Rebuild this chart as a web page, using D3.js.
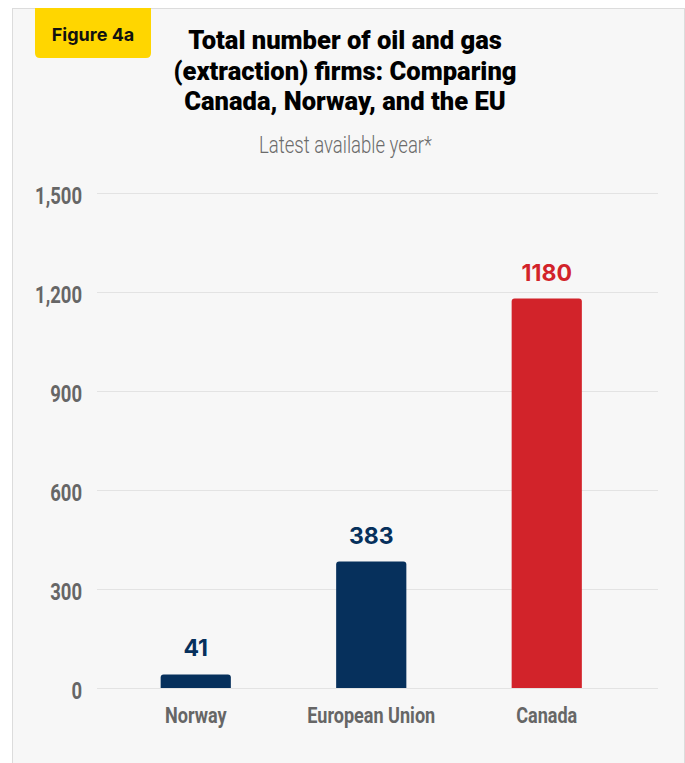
<!DOCTYPE html>
<html><head><meta charset="utf-8">
<script src="https://cdn.jsdelivr.net/npm/d3@7"></script>
<style>
html,body{margin:0;padding:0;background:#fff;}
svg{display:block;}
</style></head>
<body>
<svg id="chart" width="685" height="763"></svg>
<script>
// ---- data ----
const categories = ["Norway", "European Union", "Canada"];
const values = [41, 383, 1180];
const barColors = ["#06305c", "#06305c", "#d2232a"];
const yTicks = [0, 300, 600, 900, 1200, 1500];
const titleLines = ["Total number of oil and gas", "(extraction) firms: Comparing", "Canada, Norway, and the EU"];
const subtitle = "Latest available year*";
const badgeText = "Figure 4a";

const svg = d3.select("#chart");

// panel
svg.append("rect").attr("x", 12.5).attr("y", 8.5).attr("width", 672).attr("height", 800)
  .attr("fill", "#f7f7f7").attr("stroke", "#dcdcdc").attr("stroke-width", 1);

// badge
const bx0 = 35, bx1 = 151, by0 = 8, by1 = 58, r = 5;
svg.append("path")
  .attr("d", `M${bx0},${by0} H${bx1} V${by1 - r} Q${bx1},${by1} ${bx1 - r},${by1} H${bx0 + r} Q${bx0},${by1} ${bx0},${by1 - r} Z`)
  .attr("fill", "#ffd600");
svg.append("text").attr("x", (bx0 + bx1) / 2).attr("y", 41)
  .attr("text-anchor", "middle")
  .style("font-family", "Inter, 'Noto Sans', sans-serif").style("font-weight", 700)
  .style("font-size", "18px").attr("fill", "#111").text(badgeText);

// helper: horizontally condensed text
function condensed(sel, x, y, txt, opts, sx) {
  const g = sel.append("g").attr("transform", `translate(${x},${y})`);
  const t = g.append("text").attr("text-anchor", opts.anchor || "middle")
    .style("font-family", "Roboto, 'Liberation Sans', sans-serif")
    .style("font-weight", opts.weight).style("font-size", opts.size + "px")
    .attr("fill", opts.fill).text(txt);
  t.attr("transform", `scale(${sx},1)`);
  return t;
}
function measure(txt, opts) {
  const t = svg.append("text").style("font-family", "Roboto, 'Liberation Sans', sans-serif")
    .style("font-weight", opts.weight).style("font-size", opts.size + "px").text(txt);
  const w = t.node().getComputedTextLength();
  t.remove();
  return w;
}

// title
const titleOpts = {weight: 900, size: 26, fill: "#000"};
const titleSx = 314 / measure(titleLines[0], titleOpts);
titleLines.forEach((l, i) => condensed(svg, 345, 49 + i * 30.5, l, titleOpts, titleSx));

// subtitle
const subOpts = {weight: 300, size: 24, fill: "#6b6b6b"};
const subSx = 173 / measure(subtitle, subOpts);
condensed(svg, 345.5, 153, subtitle, subOpts, subSx);

// scales
const y = d3.scaleLinear().domain([0, 1500]).range([688, 193]);
const x = d3.scaleBand().domain(categories).range([108, 634.5]).paddingInner(0.6).paddingOuter(0.3);

// grid
svg.append("g").selectAll("line").data(yTicks).join("line")
  .attr("x1", 97).attr("x2", 658)
  .attr("y1", d => y(d) + 0.5).attr("y2", d => y(d) + 0.5)
  .attr("stroke", "#e3e3e3").attr("stroke-width", 1);

// y tick labels
const tickOpts = {weight: 700, size: 24, fill: "#666", anchor: "end"};
const fmt = d3.format(",");
const tickSx = 47 / measure(fmt(1500), tickOpts);
yTicks.forEach(d => condensed(svg, 82, y(d) + 11, fmt(d), tickOpts, tickSx));

// bars with rounded top corners
const rr = 3;
svg.append("g").selectAll("path").data(categories).join("path")
  .attr("d", (c, i) => {
    const x0 = x(c), x1 = x(c) + x.bandwidth(), y0 = y(values[i]), yb = y(0);
    return `M${x0},${yb} V${y0 + rr} Q${x0},${y0} ${x0 + rr},${y0} H${x1 - rr} Q${x1},${y0} ${x1},${y0 + rr} V${yb} Z`;
  })
  .attr("fill", (c, i) => barColors[i]);

// value labels
svg.append("g").selectAll("text").data(categories).join("text")
  .attr("x", c => x(c) + x.bandwidth() / 2)
  .attr("y", (c, i) => y(values[i]) - 18)
  .attr("text-anchor", "middle")
  .style("font-family", "Inter, 'Noto Sans', sans-serif").style("font-weight", 700)
  .style("font-size", "23px")
  .attr("fill", (c, i) => barColors[i])
  .text((c, i) => values[i]);

// x labels
const xOpts = {weight: 700, size: 22, fill: "#666"};
const xSx = 128 / measure("European Union", xOpts);
categories.forEach(c => condensed(svg, x(c) + x.bandwidth() / 2, 723, c, xOpts, xSx));
</script>
</body></html>
